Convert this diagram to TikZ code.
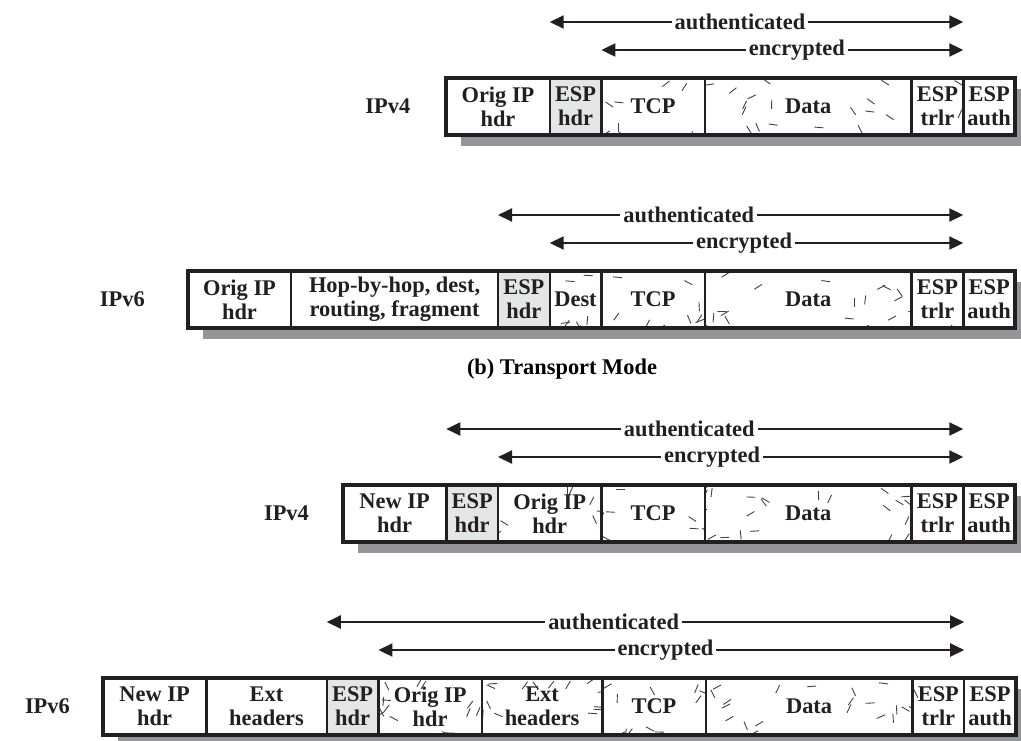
\documentclass[tikz,border=0pt]{standalone}
\usepackage{fontspec}
\setmainfont{Liberation Serif}
\usepackage{tikz}
\usetikzlibrary{arrows.meta,positioning,calc,backgrounds}
\definecolor{Ink}{HTML}{231F20}
\definecolor{EspGray}{HTML}{E4E6E6}
\definecolor{Shade}{HTML}{939598}
\newlength{\unitw}\setlength{\unitw}{25.85pt}
% random strokes in an encrypted field, kept off the text
\newcommand{\scratches}[3]{%
  \pgfpointdiff{\pgfpointanchor{path picture bounding box}{south west}}{\pgfpointanchor{path picture bounding box}{north east}}%
  \pgfgetlastxy{\cellw}{\cellh}%
  \foreach \k in {1,...,#1}{%
    \pgfmathsetmacro{\dx}{(rnd-0.5)*\cellw}%
    \pgfmathsetmacro{\dy}{(rnd-0.5)*\cellh}%
    \pgfmathsetmacro{\ang}{int(random(0,5))*30+random(-8,8)}%
    \pgfmathparse{((abs(\dx)<#2*0.5)&&(abs(\dy)<#3*0.5))?1:0}%
    \ifdim\pgfmathresult pt<0.5pt
      \draw[scratch] ([shift={(\dx pt,\dy pt)}]path picture bounding box.center) -- ++(\ang:9);
    \fi
  }%
}
\tikzset{
  cell/.style={draw=Ink,line width=1.2pt,fill=white,outer sep=0pt,inner sep=0pt,minimum height=28.5pt,minimum width=#1*\unitw,align=center,text=Ink},
  cell/.default=2,
  cellesp/.style={cell=1,fill=EspGray},
  cellenc/.style n args={4}{cell=#1,path picture={\scratches{#2}{#3}{#4}}},
  scratch/.style={draw=Ink!85,line width=0.45pt},
  frame/.style={draw=Ink,line width=2pt},
  drop/.style={fill=Shade},
  span/.style={{Triangle[length=7pt,width=6.5pt]}-{Triangle[length=7pt,width=6.5pt]},line width=1pt,draw=Ink},
  spanlabel/.style={fill=white,inner sep=1.5pt,text=Ink},
  rowlabel/.style={text=Ink}
}
\begin{document}
\begin{tikzpicture}[x=0.5pt,y=-0.5pt,font=\fontsize{11.2}{12}\selectfont\bfseries]
  \useasboundingbox (0,0) rectangle (1021,740);
  \pgfmathsetseed{11}

  % IPv4, transport mode
  \node[cell=2,anchor=north west] (a1) at (446.3,78) {Orig IP\\hdr};
  \node[cellesp,right=0pt of a1] (a2) {ESP\\hdr};
  \node[cellenc={2}{16}{34}{18},right=0pt of a2] (a3) {TCP};
  \node[cellenc={4}{30}{36}{18},right=0pt of a3] (a4) {Data};
  \node[cellenc={1}{8}{24}{24},right=0pt of a4] (a5) {ESP\\trlr};
  \node[cell=1,right=0pt of a5] (a6) {ESP\\auth};
  \draw[frame] (a1.north west) rectangle (a6.south east);
  \node[rowlabel,left=14.5pt of a1] (l1) {IPv4};
  \draw[span] ([yshift=28pt]a2.north west) -- node[spanlabel,pos=.46]{authenticated} ([yshift=28pt]a5.north east);
  \draw[span] ([yshift=14pt]a3.north west) -- node[spanlabel,pos=.54]{encrypted} ([yshift=14pt]a5.north east);

  % IPv6, transport mode
  \node[cell=2,anchor=north west] (b1) at (187.8,271) {Orig IP\\hdr};
  \node[cell=4,right=0pt of b1] (b2) {Hop-by-hop, dest,\\routing, fragment};
  \node[cellesp,right=0pt of b2] (b3) {ESP\\hdr};
  \node[cellenc={1}{8}{24}{16},right=0pt of b3] (b4) {Dest};
  \node[cellenc={2}{16}{34}{18},right=0pt of b4] (b5) {TCP};
  \node[cellenc={4}{30}{36}{18},right=0pt of b5] (b6) {Data};
  \node[cellenc={1}{8}{24}{24},right=0pt of b6] (b7) {ESP\\trlr};
  \node[cell=1,right=0pt of b7] (b8) {ESP\\auth};
  \draw[frame] (b1.north west) rectangle (b8.south east);
  \node[rowlabel,left=18pt of b1] (l2) {IPv6};
  \draw[span] ([yshift=28pt]b3.north west) -- node[spanlabel,pos=.41]{authenticated} ([yshift=28pt]b7.north east);
  \draw[span] ([yshift=14pt]b4.north west) -- node[spanlabel,pos=.47]{encrypted} ([yshift=14pt]b7.north east);

  \node (mode) at (562,369) {(b) Transport Mode};

  % IPv4, tunnel mode
  \node[cell=2,anchor=north west] (c1) at (342.9,485) {New IP\\hdr};
  \node[cellesp,right=0pt of c1] (c2) {ESP\\hdr};
  \node[cellenc={2}{36}{40}{25},right=0pt of c2] (c3) {Orig IP\\hdr};
  \node[cellenc={2}{16}{34}{18},right=0pt of c3] (c4) {TCP};
  \node[cellenc={4}{30}{36}{18},right=0pt of c4] (c5) {Data};
  \node[cellenc={1}{8}{24}{24},right=0pt of c5] (c6) {ESP\\trlr};
  \node[cell=1,right=0pt of c6] (c7) {ESP\\auth};
  \draw[frame] (c1.north west) rectangle (c7.south east);
  \node[rowlabel,left=13.5pt of c1] (l3) {IPv4};
  \draw[span] ([yshift=28pt]c2.north west) -- node[spanlabel,pos=.47]{authenticated} ([yshift=28pt]c6.north east);
  \draw[span] ([yshift=14pt]c3.north west) -- node[spanlabel,pos=.46]{encrypted} ([yshift=14pt]c6.north east);

  % IPv6, tunnel mode
  \pgfmathsetseed{23}
  \node[cell=2,anchor=north west] (d1) at (102.9,678) {New IP\\hdr};
  \node[cell=2.33,right=0pt of d1] (d2) {Ext\\headers};
  \node[cellesp,right=0pt of d2] (d3) {ESP\\hdr};
  \node[cellenc={2}{40}{40}{25},right=0pt of d3] (d4) {Orig IP\\hdr};
  \node[cellenc={2.33}{30}{40}{24},right=0pt of d4] (d5) {Ext\\headers};
  \node[cellenc={2}{16}{34}{18},right=0pt of d5] (d6) {TCP};
  \node[cellenc={4}{30}{36}{18},right=0pt of d6] (d7) {Data};
  \node[cellenc={1}{8}{24}{24},right=0pt of d7] (d8) {ESP\\trlr};
  \node[cell=1,right=0pt of d8] (d9) {ESP\\auth};
  \draw[frame] (d1.north west) rectangle (d9.south east);
  \node[rowlabel,left=13pt of d1] (l4) {IPv6};
  \draw[span] ([yshift=28pt]d3.north west) -- node[spanlabel,pos=.45]{authenticated} ([yshift=28pt]d8.north east);
  \draw[span] ([yshift=14pt]d4.north west) -- node[spanlabel,pos=.49]{encrypted} ([yshift=14pt]d8.north east);

  \begin{scope}[on background layer]
    \foreach \f/\l in {a1/a6,b1/b8,c1/c7,d1/d9}
      \fill[drop] ([xshift=7.5pt,yshift=-5.5pt]\f.north west) rectangle ([xshift=7.5pt,yshift=-5.5pt]\l.south east);
  \end{scope}
\end{tikzpicture}
\end{document}
